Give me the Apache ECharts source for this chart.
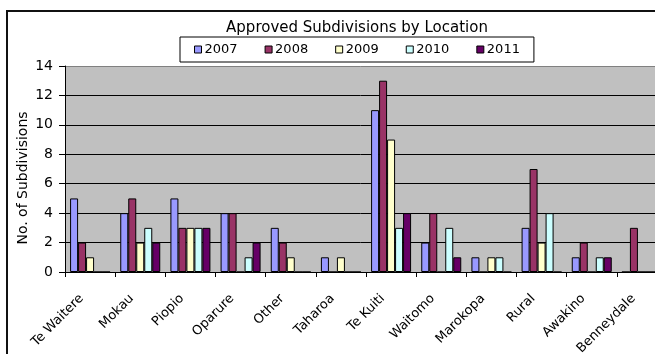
<!DOCTYPE html>
<html>
<head>
<meta charset="utf-8">
<script src="https://cdn.jsdelivr.net/npm/echarts@6/dist/echarts.min.js"></script>
<style>
  html, body { margin: 0; padding: 0; background: #fff; }
  #chart { width: 655px; height: 354px; }
</style>
</head>
<body>
<div id="chart"></div>
<script>
// Subdivisions approved per location, 2007-2011
const locations = ['Te Waitere', 'Mokau', 'Piopio', 'Oparure', 'Other', 'Taharoa',
  'Te Kuiti', 'Waitomo', 'Marokopa', 'Rural', 'Awakino', 'Benneydale'];
const years = ['2007', '2008', '2009', '2010', '2011'];
const values2007 = [5, 4, 5, 4, 3, 1, 11, 2, 1, 3, 1, 0];
const values2008 = [2, 5, 3, 4, 2, 0, 13, 4, 0, 7, 2, 3];
const values2009 = [1, 2, 3, 0, 1, 1, 9, 0, 1, 2, 0, 0];
const values2010 = [0, 3, 3, 1, 0, 0, 3, 3, 1, 4, 1, 0];
const values2011 = [0, 2, 3, 2, 0, 0, 4, 1, 0, 0, 1, 0];
const yTicks = [0, 2, 4, 6, 8, 10, 12, 14];

const seriesValues = [values2007, values2008, values2009, values2010, values2011];
const seriesColors = ['#9999FF', '#993366', '#FFFFCC', '#CCFFFF', '#660066'];
const FONT = 'DejaVu Sans';

const chart = echarts.init(document.getElementById('chart'), null, { renderer: 'canvas' });

// split line colours: black gridlines, grey border line at the top
const splitColors = yTicks.map((t, i) => (i === yTicks.length - 1 ? '#808080' : '#000000'));

chart.setOption({
  animation: false,
  backgroundColor: '#ffffff',
  textStyle: { fontFamily: FONT, color: '#000' },
  legend: {
    data: years,
    left: 180,
    top: 37,
    orient: 'horizontal',
    padding: [6, 14, 6, 14],
    itemWidth: 7,
    itemHeight: 7,
    itemGap: 27,
    icon: 'rect',
    borderColor: '#000',
    borderWidth: 1,
    itemStyle: { borderColor: '#000', borderWidth: 1 },
    textStyle: { fontFamily: FONT, fontSize: 13, color: '#000', padding: [0, 0, 0, -2] }
  },
  grid: {
    left: 65,
    top: 66,
    width: 602,
    height: 206,
    outerBoundsMode: 'none',
    containLabel: false,
    show: true,
    backgroundColor: '#C0C0C0',
    borderWidth: 0
  },
  xAxis: {
    type: 'category',
    data: locations,
    name: 'Location',
    nameLocation: 'middle',
    nameGap: 71,
    nameTextStyle: { fontFamily: FONT, fontSize: 14, color: '#000' },
    axisLine: { lineStyle: { color: '#000', width: 1 } },
    axisTick: { show: true, alignWithLabel: false, length: 5, lineStyle: { color: '#000' } },
    axisLabel: {
      interval: 0, rotate: 45, margin: 16, padding: [0, 12, 0, 0],
      fontFamily: FONT, fontSize: 13, color: '#000'
    }
  },
  yAxis: {
    type: 'value',
    min: 0,
    max: 14,
    interval: 2,
    axisLine: { show: true, lineStyle: { color: '#000', width: 1 } },
    axisTick: { show: true, length: 6, lineStyle: { color: '#000' } },
    axisLabel: { margin: 12, fontFamily: FONT, fontSize: 14, color: '#000' },
    splitLine: { show: true, lineStyle: { color: splitColors, width: 1 } }
  },
  graphic: [
    {
      type: 'rect',
      shape: { x: 7, y: 11, width: 700, height: 400 },
      style: { fill: 'none', stroke: '#111', lineWidth: 2 },
      silent: true,
      z: 100
    },
    {
      type: 'text',
      x: 357,
      y: 28,
      style: {
        text: 'Approved Subdivisions by Location',
        fontFamily: FONT,
        fontSize: 15,
        fill: '#000',
        align: 'center',
        verticalAlign: 'middle'
      }
    },
    {
      type: 'text',
      x: 23,
      y: 178,
      rotation: Math.PI / 2,
      style: {
        text: 'No. of Subdivisions',
        fontFamily: FONT,
        fontSize: 14,
        fill: '#000',
        align: 'center',
        verticalAlign: 'middle'
      }
    }
  ],
  series: years.map((y, i) => ({
    name: y,
    type: 'bar',
    data: seriesValues[i],
    barWidth: 8,
    barGap: '0%',
    itemStyle: { color: seriesColors[i], borderColor: '#000', borderWidth: 1 }
  }))
});
</script>
</body>
</html>
